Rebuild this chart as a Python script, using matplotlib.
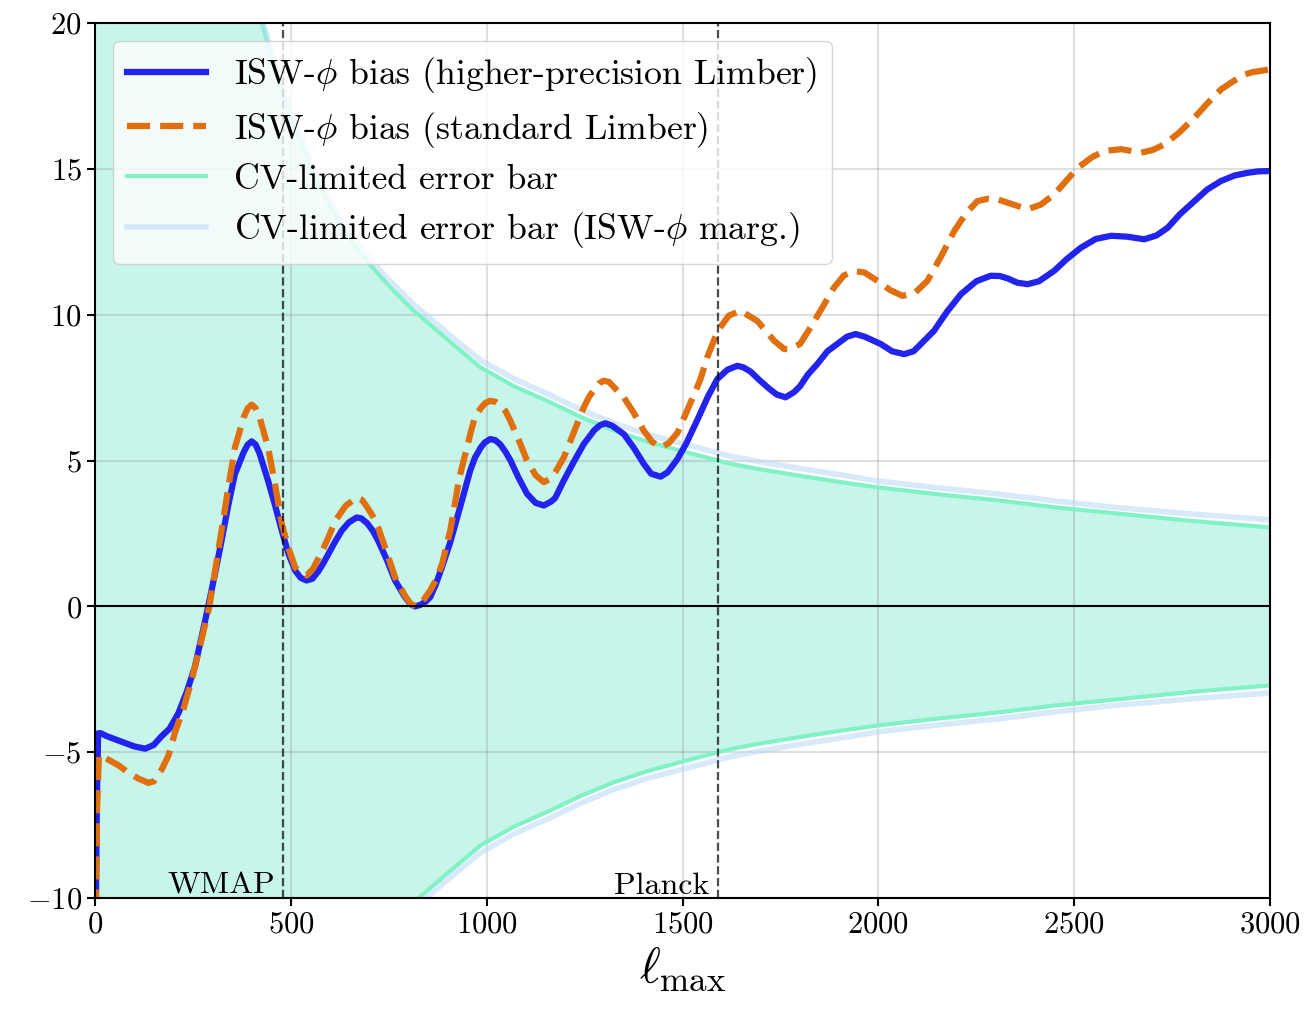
import matplotlib
matplotlib.use("Agg")
import matplotlib.pyplot as plt

plt.rcParams['font.family'] = 'serif'
plt.rcParams['font.serif'] = ['cmr10']
plt.rcParams['mathtext.fontset'] = 'cm'
plt.rcParams['axes.formatter.use_mathtext'] = True

# ISW-phi bias, higher-precision Limber
ell_hp = [2, 5, 8, 15, 30, 50, 70, 100, 128, 150, 170, 190, 213, 235, 255, 272, 289, 306,
          323, 340, 357, 380, 390, 400, 410, 420, 442, 460, 477, 494, 511, 525, 540, 555,
          570, 583, 596, 613, 630, 648, 668, 680, 695, 709, 723, 745, 766, 790, 805, 817,
          830, 843, 856, 870, 886, 907, 930, 958, 970, 985, 995, 1009, 1022, 1035, 1048,
          1061, 1080, 1103, 1125, 1146, 1165, 1175, 1197, 1222, 1248, 1275, 1290, 1303,
          1320, 1350, 1375, 1401, 1420, 1444, 1462, 1487, 1510, 1538, 1565, 1589, 1615,
          1640, 1655, 1674, 1695, 1720, 1740, 1763, 1785, 1800, 1820, 1844, 1870, 1900,
          1920, 1942, 1965, 2006, 2035, 2066, 2090, 2105, 2142, 2175, 2211, 2250, 2287,
          2310, 2330, 2355, 2381, 2410, 2449, 2480, 2517, 2555, 2594, 2635, 2679, 2710,
          2739, 2770, 2807, 2840, 2875, 2910, 2943, 2970, 3000]
bias_hp = [-10.5, -6.5, -4.35, -4.35, -4.45, -4.55, -4.65, -4.8, -4.88, -4.75, -4.45,
           -4.2, -3.66, -2.9, -2.07, -1.05, 0.0, 1.1, 2.25, 3.45, 4.53, 5.3, 5.55, 5.66,
           5.55, 5.25, 4.3, 3.45, 2.59, 1.8, 1.23, 0.98, 0.89, 0.95, 1.2, 1.48, 1.8, 2.22,
           2.6, 2.88, 3.05, 3.02, 2.85, 2.6, 2.25, 1.6, 0.89, 0.35, 0.08, 0.0, 0.05, 0.15,
           0.32, 0.75, 1.35, 2.2, 3.3, 4.66, 5.1, 5.45, 5.62, 5.74, 5.7, 5.55, 5.3, 5.0,
           4.45, 3.86, 3.55, 3.46, 3.6, 3.72, 4.32, 4.95, 5.57, 6.05, 6.22, 6.28, 6.2,
           5.91, 5.45, 4.89, 4.55, 4.45, 4.6, 5.05, 5.6, 6.4, 7.2, 7.8, 8.12, 8.25, 8.2,
           8.05, 7.78, 7.48, 7.27, 7.17, 7.35, 7.55, 7.95, 8.31, 8.75, 9.05, 9.25, 9.34,
           9.25, 9.0, 8.75, 8.65, 8.75, 8.95, 9.45, 10.1, 10.71, 11.15, 11.34, 11.33,
           11.25, 11.1, 11.05, 11.15, 11.51, 11.9, 12.3, 12.6, 12.71, 12.68, 12.59, 12.72,
           12.99, 13.45, 13.9, 14.3, 14.59, 14.78, 14.87, 14.92, 14.93]

# ISW-phi bias, standard Limber
ell_std = [2, 5, 10, 20, 40, 60, 80, 110, 136, 150, 170, 188, 204, 226, 247, 270, 292,
           307, 323, 340, 357, 380, 390, 400, 410, 420, 442, 460, 477, 494, 511, 525, 540,
           557, 580, 597, 613, 640, 668, 682, 695, 709, 723, 745, 766, 790, 805, 819, 835,
           856, 870, 886, 907, 930, 958, 970, 985, 997, 1009, 1022, 1035, 1048, 1061, 1082,
           1103, 1125, 1146, 1165, 1175, 1197, 1222, 1248, 1262, 1275, 1287, 1299, 1312,
           1350, 1375, 1401, 1422, 1444, 1465, 1487, 1508, 1529, 1546, 1563, 1590, 1618,
           1648, 1691, 1734, 1759, 1772, 1800, 1827, 1857, 1887, 1912, 1938, 1965, 1998,
           2030, 2062, 2093, 2125, 2160, 2194, 2225, 2253, 2280, 2304, 2340, 2381, 2415,
           2449, 2480, 2509, 2545, 2577, 2620, 2671, 2700, 2730, 2768, 2807, 2840, 2875,
           2905, 2935, 2955, 2974, 3000]
bias_std = [-10.5, -7.0, -5.1, -5.15, -5.3, -5.45, -5.65, -5.9, -6.05, -6.0, -5.6, -5.1,
            -4.33, -3.5, -2.52, -1.25, 0.0, 1.25, 2.6, 4.05, 5.44, 6.5, 6.8, 6.92, 6.8,
            6.5, 5.44, 4.15, 2.83, 2.0, 1.34, 1.15, 1.06, 1.3, 1.9, 2.4, 2.93, 3.45, 3.73,
            3.65, 3.4, 3.1, 2.7, 1.85, 1.0, 0.4, 0.1, 0.0, 0.15, 0.55, 0.9, 1.45, 2.6, 4.4,
            5.9, 6.5, 6.8, 6.98, 7.05, 7.02, 6.9, 6.7, 6.35, 5.7, 5.0, 4.5, 4.26, 4.4, 4.6,
            5.11, 5.95, 6.83, 7.2, 7.45, 7.65, 7.74, 7.7, 7.17, 6.65, 6.03, 5.65, 5.45,
            5.6, 5.95, 6.6, 7.25, 7.8, 8.54, 9.45, 9.97, 10.14, 9.79, 9.11, 8.83, 8.82,
            9.0, 9.57, 10.25, 10.94, 11.35, 11.5, 11.45, 11.16, 10.85, 10.65, 10.75, 11.16,
            12.0, 12.88, 13.5, 13.9, 13.98, 13.96, 13.8, 13.62, 13.78, 14.13, 14.6, 15.04,
            15.4, 15.62, 15.68, 15.56, 15.65, 15.84, 16.25, 16.76, 17.25, 17.73, 18.0,
            18.24, 18.32, 18.36, 18.42]

# cosmic-variance limited error bars
ell_cv = [2, 50, 150, 250, 330, 380, 413, 426, 450, 475, 498, 525, 550, 575, 600, 645,
          694, 750, 813, 848, 900, 984, 1070, 1154, 1240, 1325, 1410, 1495, 1623, 1700,
          1800, 1900, 2000, 2150, 2310, 2450, 2600, 2800, 3000]
err_cv = [4000, 160, 54, 32, 25.0, 22.0, 20.5, 20.0, 18.9, 17.8, 16.8, 15.9, 15.1, 14.4,
          13.75, 12.7, 11.85, 11.0, 10.15, 9.75, 9.15, 8.2, 7.55, 7.05, 6.5, 6.03, 5.65,
          5.34, 4.89, 4.7, 4.48, 4.27, 4.08, 3.85, 3.63, 3.4, 3.2, 2.93, 2.71]
err_marg = [4000, 160, 54, 32, 25.1, 22.1, 20.65, 20.15, 19.1, 18.0, 17.0, 16.1, 15.3,
            14.6, 13.95, 12.9, 12.05, 11.2, 10.37, 9.97, 9.37, 8.45, 7.8, 7.3, 6.75,
            6.28, 5.9, 5.6, 5.15, 4.95, 4.73, 4.52, 4.3, 4.07, 3.85, 3.62, 3.4, 3.17, 2.97]

ell_wmap = 481
ell_planck = 1590

fig, ax = plt.subplots(figsize=(13.07, 10.09), dpi=100)
fig.subplots_adjust(left=0.0727, right=0.9717, bottom=0.110, top=0.977)

ax.fill_between(ell_cv, [-e for e in err_cv], err_cv, color='#c7f5ea', lw=0)
ax.plot(ell_cv, err_cv, color='#80f2c6', lw=3, label='CV-limited error bar')
ax.plot(ell_cv, [-e for e in err_cv], color='#80f2c6', lw=3)
ax.plot(ell_cv, err_marg, color='#b8d8f6', lw=4, alpha=0.55,
        label=r'CV-limited error bar (ISW-$\phi$ marg.)')
ax.plot(ell_cv, [-e for e in err_marg], color='#b8d8f6', lw=4, alpha=0.55)

ax.plot(ell_hp, bias_hp, color='#2323ee', lw=4.5,
        label=r'ISW-$\phi$ bias (higher-precision Limber)')
ax.plot(ell_std, bias_std, color='#e0700f', lw=4.5, ls='--',
        label=r'ISW-$\phi$ bias (standard Limber)')

ax.axhline(0, color='black', lw=1.5)
ax.axvline(ell_wmap, color='black', ls='--', lw=1.6, alpha=0.7)
ax.axvline(ell_planck, color='black', ls='--', lw=1.6, alpha=0.7)
ax.text(ell_wmap - 22, -9.85, 'WMAP', ha='right', va='baseline', fontsize=23)
ax.text(ell_planck - 22, -9.85, 'Planck', ha='right', va='baseline', fontsize=23)

ax.set_xlim(0, 3000)
ax.set_ylim(-10, 20)
ax.set_xticks([0, 500, 1000, 1500, 2000, 2500, 3000])
ax.set_yticks([-10, -5, 0, 5, 10, 15, 20])
ax.tick_params(labelsize=22, length=6, width=1.5)
ax.grid(True, color='gray', alpha=0.25, lw=1.5)
for s in ax.spines.values():
    s.set_linewidth(1.5)
ax.set_xlabel(r'$\ell_{\rm max}$', fontsize=36)

h, l = ax.get_legend_handles_labels()
order = [2, 3, 0, 1]
ax.legend([h[i] for i in order], [l[i] for i in order], loc='upper left',
          fontsize=25.7, handlelength=2.2, labelspacing=0.4, framealpha=0.8)

fig.savefig('out.png', dpi=100)
